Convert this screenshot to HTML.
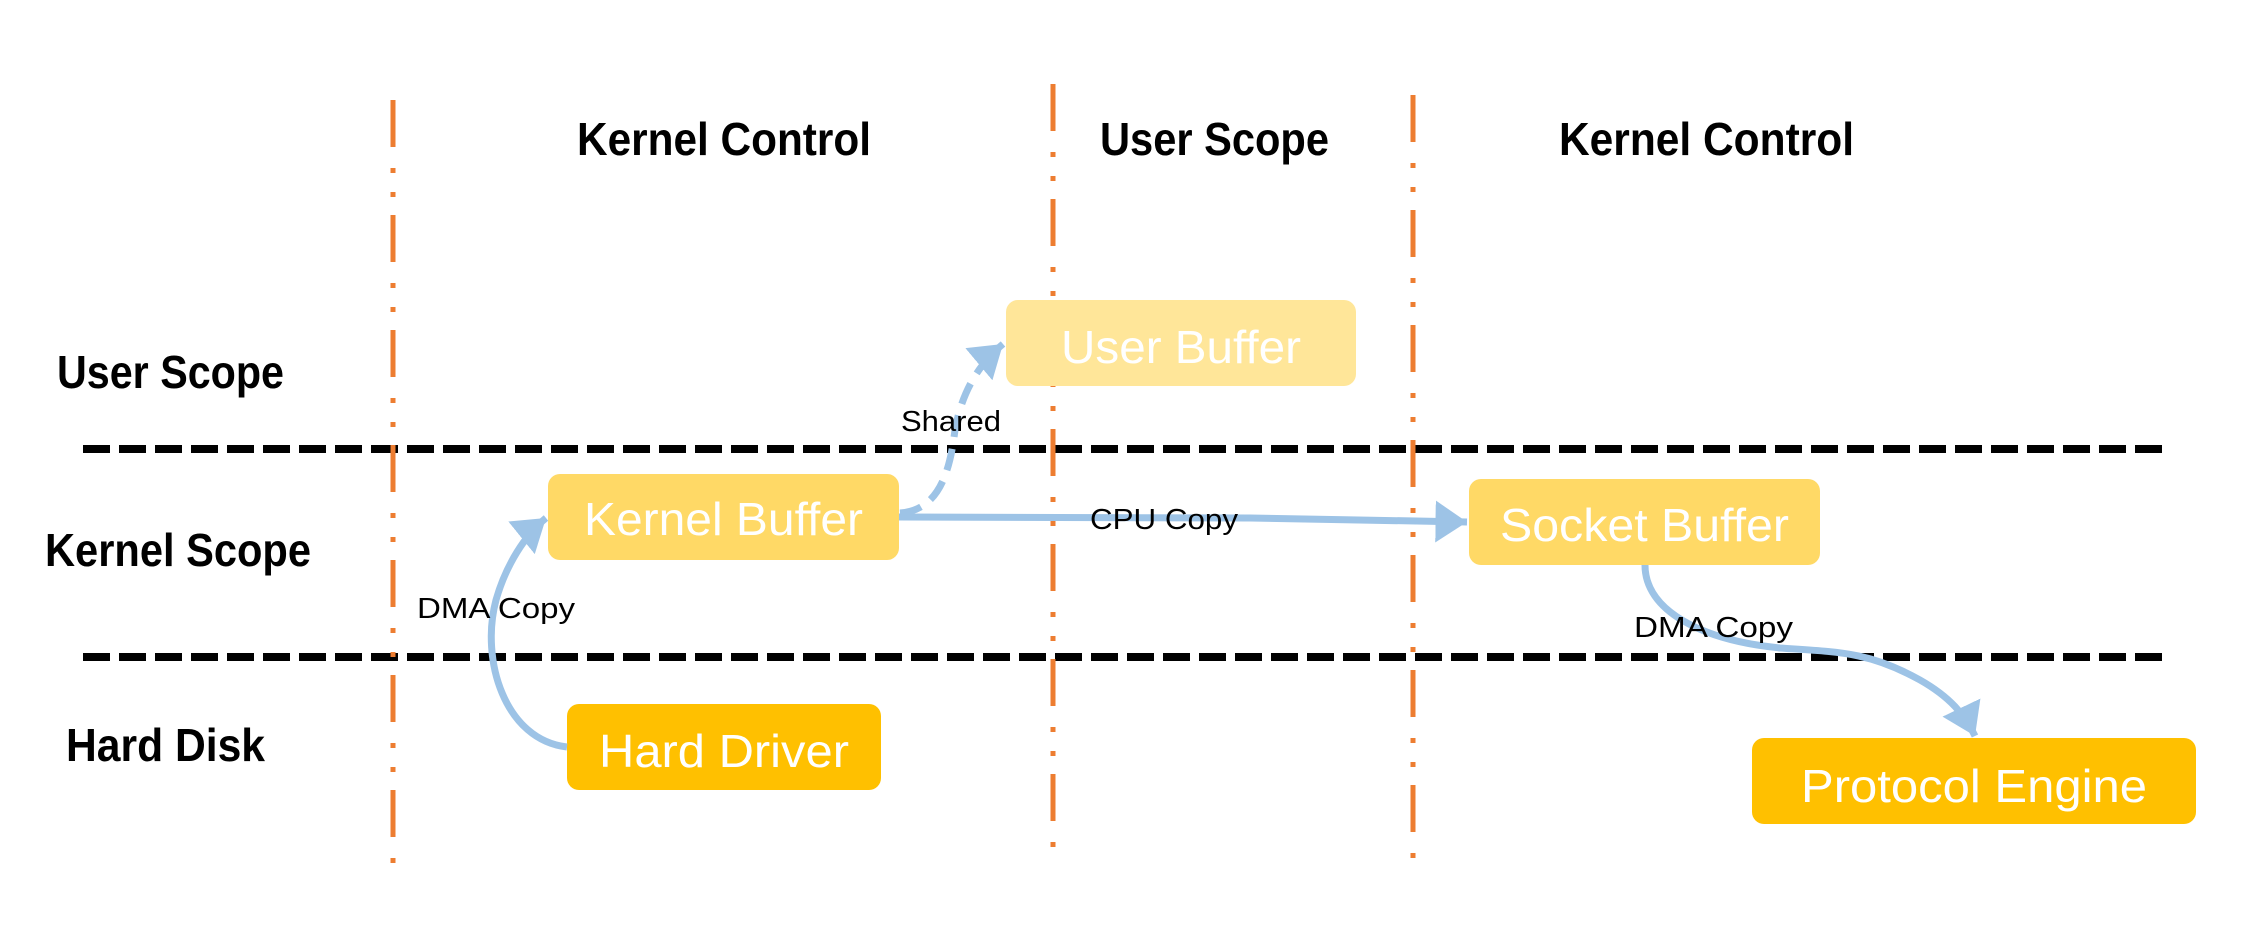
<!DOCTYPE html>
<html><head><meta charset="utf-8"><style>html,body{margin:0;padding:0;background:#fff}svg{display:block}</style></head>
<body>
<svg width="2243" height="943" viewBox="0 0 2243 943" xmlns="http://www.w3.org/2000/svg">
<defs>
<marker id="ah" markerWidth="6" markerHeight="6" refX="4.5" refY="3" orient="auto" markerUnits="strokeWidth">
<path d="M0,0 L4.5,3 L0,6 Z" fill="#9DC3E6"/></marker>
</defs>
<rect width="2243" height="943" fill="#fff"/>
<line x1="83" y1="449" x2="2163" y2="449" stroke="#000" stroke-width="8" stroke-dasharray="27 9"/>
<line x1="83" y1="657" x2="2163" y2="657" stroke="#000" stroke-width="8" stroke-dasharray="27 9"/>
<g stroke="#ED7D31" stroke-width="5" stroke-dasharray="47 21 5 19 5 18">
<line x1="393" y1="100" x2="393" y2="878"/>
<line x1="1053" y1="84" x2="1053" y2="863"/>
<line x1="1413" y1="95" x2="1413" y2="872"/>
</g>
<g font-family="Liberation Sans, sans-serif" font-weight="bold" font-size="46" fill="#000">
<text x="577" y="155" textLength="294" lengthAdjust="spacingAndGlyphs">Kernel Control</text>
<text x="1100" y="155" textLength="229" lengthAdjust="spacingAndGlyphs">User Scope</text>
<text x="1559" y="155" textLength="295" lengthAdjust="spacingAndGlyphs">Kernel Control</text>
<text x="57" y="388" textLength="227" lengthAdjust="spacingAndGlyphs">User Scope</text>
<text x="45" y="566" textLength="266" lengthAdjust="spacingAndGlyphs">Kernel Scope</text>
<text x="66" y="761" textLength="199" lengthAdjust="spacingAndGlyphs">Hard Disk</text>
</g>
<rect x="1006" y="300" width="350" height="86" rx="12" fill="#FFE699"/>
<rect x="548" y="474" width="351" height="86" rx="12" fill="#FFD966"/>
<rect x="567" y="704" width="314" height="86" rx="12" fill="#FFC000"/>
<rect x="1469" y="479" width="351" height="86" rx="12" fill="#FFD966"/>
<rect x="1752" y="738" width="444" height="86" rx="12" fill="#FFC000"/>
<g font-family="Liberation Sans, sans-serif" font-size="46" fill="#fff">
<text x="1061" y="363" textLength="240" lengthAdjust="spacingAndGlyphs">User Buffer</text>
<text x="584" y="535" textLength="279" lengthAdjust="spacingAndGlyphs">Kernel Buffer</text>
<text x="599" y="767" textLength="250" lengthAdjust="spacingAndGlyphs">Hard Driver</text>
<text x="1500" y="541" textLength="289" lengthAdjust="spacingAndGlyphs">Socket Buffer</text>
<text x="1801" y="802" textLength="346" lengthAdjust="spacingAndGlyphs">Protocol Engine</text>
</g>
<g fill="none" stroke="#9DC3E6" stroke-width="7">
<path d="M567,747 C505,740 480,660 496,600 C506,565 525,535 546,518" marker-end="url(#ah)"/>
<path d="M899,517 L1250,518 C1320,519 1400,521 1467,522" marker-end="url(#ah)"/>
<path d="M900,513 C940,510 950,470 955,430 C962,392 978,365 1003,344" stroke-dasharray="22 12" marker-end="url(#ah)"/>
<path d="M1645,565 C1645,610 1700,640 1780,648 C1840,652 1870,652 1920,680 C1950,697 1965,715 1975,736" marker-end="url(#ah)"/>
</g>
<g font-family="Liberation Sans, sans-serif" font-size="29" fill="#000">
<text x="901" y="431" textLength="100" lengthAdjust="spacingAndGlyphs">Shared</text>
<text x="417" y="618" textLength="158" lengthAdjust="spacingAndGlyphs">DMA Copy</text>
<text x="1090" y="529" textLength="148" lengthAdjust="spacingAndGlyphs">CPU Copy</text>
<text x="1634" y="637" textLength="159" lengthAdjust="spacingAndGlyphs">DMA Copy</text>
</g>
</svg>
</body></html>
